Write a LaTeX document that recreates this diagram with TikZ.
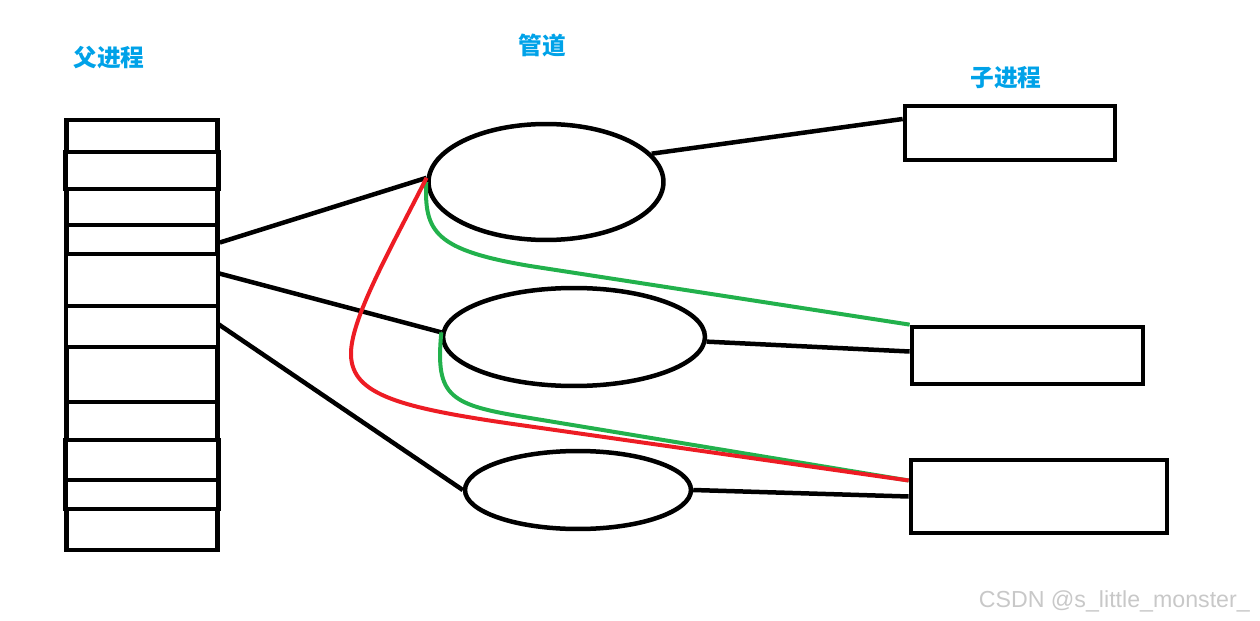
\documentclass[tikz,border=0pt]{standalone}
\usepackage{fontspec}
\usetikzlibrary{shapes.geometric}
\newfontfamily\cjk{Noto Sans CJK SC}
\setsansfont{Liberation Sans}
\definecolor{titleblue}{RGB}{0,162,232}
\definecolor{wred}{RGB}{237,28,36}
\definecolor{wgreen}{RGB}{34,177,76}
\definecolor{markgray}{RGB}{200,200,200}

\begin{document}
\begin{tikzpicture}[x=0.02cm, y=-0.02cm,
  cell/.style={draw, line width=0.095cm, inner sep=0pt},
  pipe/.style={draw, ellipse, line width=0.09cm, inner sep=0pt},
  child/.style={draw, line width=0.095cm, inner sep=0pt},
  title/.style={text=titleblue, font=\cjk\bfseries\fontsize{13.5pt}{16pt}\selectfont},
  wire/.style={line width=0.09cm},
  share/.style={line width=0.08cm}]
\useasboundingbox (0,0) rectangle (1260,621);
% parent process: stack of cells
\foreach \t/\b/\w [count=\i] in {120/152/151, 152/189/153, 189/225/151, 225/254/151, 254/306/152, 306/347/152, 347/402/151, 402/440/151, 440/480/153, 480/509/153, 509/550/151}
  \node[cell, minimum width=\w*0.02cm, minimum height={(\b-\t)*0.02cm}] (c\i) at (142,{(\t+\b)/2}) {};
% pipes
\node[pipe, minimum width=4.7cm, minimum height=2.32cm] (e1) at (546,182) {};
\node[pipe, minimum width=5.24cm, minimum height=1.96cm] (e2) at (574,337) {};
\node[pipe, minimum width=4.52cm, minimum height=1.56cm] (e3) at (578,490) {};
% child processes
\node[child, minimum width=4.2cm, minimum height=1.08cm] (r1) at (1010,133) {};
\node[child, minimum width=4.62cm, minimum height=1.14cm] (r2) at (1027.5,355.5) {};
\node[child, minimum width=5.12cm, minimum height=1.46cm] (r3) at (1039,496.5) {};
% titles
\node[title] (parent) at (109,58) {父进程};
\node[title] (pipes) at (542,46) {管道};
\node[title] (children) at (1006,78) {子进程};
\node[anchor=base east, text=markgray, font=\sffamily\fontsize{13.2pt}{15pt}\selectfont] (mark) at (1256,607) {CSDN @s\_little\_monster\_};
% black connections
\draw[wire] ([shift={(0,3)}]c4.east) -- (e1.178);
\draw[wire] ([shift={(-3,-7)}]c5.east) -- (e2.178);
\draw[wire] ([shift={(-3,-3)}]c6.east) -- (e3.west);
\draw[wire] (e1.15) -- ([shift={(0,-14)}]r1.west);
\draw[wire] (e2.-2) -- ([shift={(0,-4)}]r2.west);
\draw[wire] (e3.east) -- (r3.west);
% shared ends
\draw[share, wgreen] (e1.west) .. controls (424,232) and (435,250) .. (530,266) -- (r2.north west);
\draw[share, wgreen] (e2.178) .. controls (435,398) and (450,405) .. (530,418) -- ([shift={(0,-16)}]r3.west);
\draw[share, wred] (e1.178) .. controls (390,250) and (350,320) .. (351,355) .. controls (352,395) and (400,408) .. (520,425) -- ([shift={(0,-16)}]r3.west);
\end{tikzpicture}
\end{document}
